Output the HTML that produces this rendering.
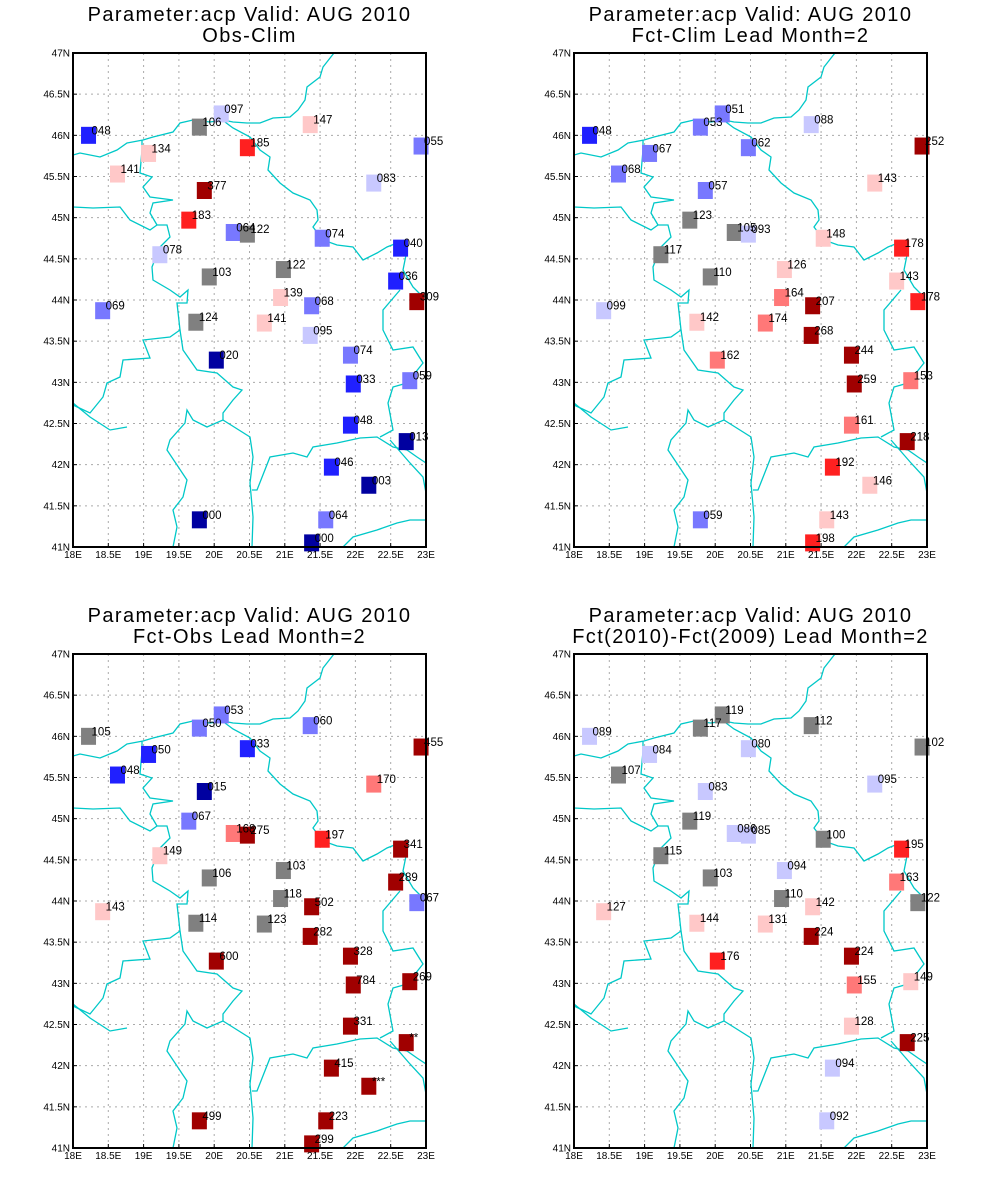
<!DOCTYPE html>
<html><head><meta charset="utf-8"><style>
body{margin:0;background:#fff;width:1000px;height:1200px;overflow:hidden}
svg{display:block}
text{font-family:"Liberation Sans",sans-serif}
</style></head><body>
<svg id="chart" width="1000" height="1200" viewBox="0 0 1000 1200" xmlns="http://www.w3.org/2000/svg">
<defs><clipPath id="clip"><rect x="0" y="0" width="353" height="494"/></clipPath></defs>
</svg>
<script>
// station coordinates
const stationLon=[18.22,20.10,19.79,20.47,21.36,22.93,19.07,18.63,19.86,22.26,19.64,20.27,20.47,21.53,22.64,19.23,19.93,20.98,22.57,20.94,21.38,22.87,18.42,19.74,20.71,21.36,20.03,21.93,21.97,22.77,21.93,22.72,21.66,22.19,19.79,21.58,21.38];
const stationLat=[46.00,46.26,46.10,45.85,46.13,45.87,45.78,45.53,45.33,45.42,44.97,44.82,44.80,44.75,44.63,44.55,44.28,44.37,44.23,44.03,43.93,43.98,43.87,43.73,43.72,43.57,43.27,43.33,42.98,43.02,42.48,42.28,41.97,41.75,41.33,41.33,41.05];
// panel values
const valsObsClim=[48,97,106,185,147,55,134,141,377,83,183,64,122,74,40,78,103,122,36,139,68,309,69,124,141,95,20,74,33,59,48,13,46,3,0,64,0];
const valsFctClim=[48,51,53,62,88,252,67,68,57,143,123,105,93,148,178,117,110,126,143,164,207,178,99,142,174,268,162,244,259,153,161,218,192,146,59,143,198];
const valsFctObs=[105,53,50.2,33,60,455,49.6,48,15,170,67,168,275,197,341,149,106,103,289,118,502,67,143,114,123,282,600,328,784,269,331,1000,415,10000,499,223,299];
const valsFctFct=[89,119,117,80,112,102,84,107,83,95,119,86,85,100.4,195,115,103,94,163,110,142,122,127,144,131,224,176,224,155,149,128,225,94,null,null,92,null];
const titles2=["Obs-Clim","Fct-Clim Lead Month=2","Fct-Obs Lead Month=2","Fct(2010)-Fct(2009) Lead Month=2"];
const lonTicks=["18E","18.5E","19E","19.5E","20E","20.5E","21E","21.5E","22E","22.5E","23E"];
const latTicks=["41N","41.5N","42N","42.5N","43N","43.5N","44N","44.5N","45N","45.5N","46N","46.5N","47N"];

const NS="http://www.w3.org/2000/svg";
const svg=document.getElementById('chart');
const W=353,H=494;
const xs=lon=>(lon-18)/5*W;
const ys=lat=>(47-lat)/6*H;
function color(v){
 if(v<25)return"#0000a0"; if(v<50)return"#2020ff"; if(v<75)return"#7878ff";
 if(v<100)return"#c8c8ff"; if(v<=125)return"#808080"; if(v<=150)return"#ffc8c8";
 if(v<=175)return"#ff7878"; if(v<=200)return"#ff2020"; return"#a00000";}
function label(v){ if(v>=10000)return"***"; if(v>=1000)return"**"; return String(Math.round(v)).padStart(3,"0");}
function mk(tag,attrs,parent){const e=document.createElementNS(NS,tag);for(const k in attrs)e.setAttribute(k,attrs[k]);parent.appendChild(e);return e;}

// map lines (pixel coords relative to plot origin)
const mapLines=[
[[261,0],[250,14],[247,24],[234,34],[232,47],[225,57],[217,64],[200,65],[187,70],[174,70],[160,69],[150,67],[137,69],[120,67],[107,70],[100,79],[80,84],[70,87],[54,90],[44,97],[27,104],[7,100],[0,102]],
[[152,69],[160,75],[177,84],[187,97],[197,104],[195,117],[207,130],[220,140],[237,147],[244,157],[245,167],[240,174],[250,187],[264,192],[280,194],[290,207],[304,200],[314,194],[324,190],[334,197],[330,217],[340,234],[350,244]],
[[0,154],[20,155],[47,154],[57,167],[77,177],[84,172],[94,172],[97,184],[87,194],[79,214],[80,227],[97,237],[107,244],[115,237],[114,250],[104,250],[107,277],[97,284],[70,287],[77,305],[50,307],[47,324],[34,330],[30,344],[17,360],[0,352]],
[[69,87],[69,97],[67,120],[79,124],[70,134],[77,144],[100,147],[80,150],[77,160],[84,172]],
[[107,277],[110,297],[124,317],[144,320],[160,334],[169,337],[160,347],[150,360],[150,367],[134,374],[120,367],[114,357],[112,370],[97,387],[94,397],[114,427],[110,444],[100,457],[104,474],[100,494]],
[[150,367],[177,384],[180,404],[177,430],[180,464],[179,494]],
[[179,437],[184,437],[197,404],[220,400],[234,404],[240,394],[264,390],[287,385],[304,384],[320,394],[334,397],[344,404],[353,410]],
[[327,237],[310,257],[310,277],[320,297],[340,294],[350,310],[334,330],[320,334],[315,350],[320,377],[307,384]],
[[317,387],[337,410],[350,424],[353,440]],
[[270,494],[280,484],[304,477],[324,470],[337,467],[353,467]],
[[0,350],[17,364],[37,377],[54,374]]
];
const panels=[[73,53,valsObsClim],[574,53,valsFctClim],[73,654,valsFctObs],[574,654,valsFctFct]];
panels.forEach((p,pi)=>{
 const [ox,oy,vals]=p;
 const g=mk('g',{transform:`translate(${ox},${oy})`},svg);
 
 
 // titles
 const t1=mk('text',{x:W/2,y:-32,'text-anchor':'middle','font-size':'20','letter-spacing':'1.4'},g);
 
 
 t1.textContent="Parameter:acp Valid: AUG 2010";
 const t2=mk('text',{x:W/2,y:-11,'text-anchor':'middle','font-size':'20','letter-spacing':'1.4'},g);
 
 
 t2.textContent=titles2[pi];
 // grid
 for(let i=1;i<lonTicks.length-1;i++){const l=mk('line',{x1:xs(18+i*0.5),x2:xs(18+i*0.5),y1:0,y2:H,stroke:'#aaa','stroke-dasharray':'2,4','stroke-width':1},g);
  
  }
 for(let i=1;i<latTicks.length-1;i++){const l=mk('line',{x1:0,x2:W,y1:ys(41+i*0.5),y2:ys(41+i*0.5),stroke:'#aaa','stroke-dasharray':'2,4','stroke-width':1},g);
  
  }
 // map
 const mg=mk('g',{'clip-path':'url(#clip)'},g);
 
 
 mapLines.forEach(pts=>{mk('polyline',{points:pts.map(q=>q.join(',')).join(' '),fill:'none',stroke:'#00c8c8','stroke-width':1.3},mg);});
 // stations
 vals.forEach((v,i)=>{
  if(v===null)return;
  const cx=xs(stationLon[i]),cy=ys(stationLat[i]);
  const r=mk('rect',{x:cx-7.5,y:cy-8.5,width:15,height:17,fill:color(v)},g);
  
  
 });
 vals.forEach((v,i)=>{
  if(v===null)return;
  const cx=xs(stationLon[i]),cy=ys(stationLat[i]);
  const t=mk('text',{x:cx+3,y:cy-1,'font-size':'11.5'},g);
  
  
  t.textContent=label(v);
 });
 // frame
 const fr=mk('rect',{x:0,y:0,width:W,height:H,fill:'none',stroke:'#000','stroke-width':2},g);
 
 
 lonTicks.forEach((s,i)=>{const t=mk('text',{x:xs(18+i*0.5),y:H+11,'text-anchor':'middle','font-size':'10'},g);
  
  
  t.textContent=s;
  mk('line',{x1:xs(18+i*0.5),x2:xs(18+i*0.5),y1:H,y2:H-4,stroke:'#000'},g);});
 latTicks.forEach((s,i)=>{const t=mk('text',{x:-3,y:ys(41+i*0.5)+3.5,'text-anchor':'end','font-size':'10'},g);
  
  
  t.textContent=s;
  mk('line',{x1:0,x2:4,y1:ys(41+i*0.5),y2:ys(41+i*0.5),stroke:'#000'},g);});
});
</script>
</body></html>
